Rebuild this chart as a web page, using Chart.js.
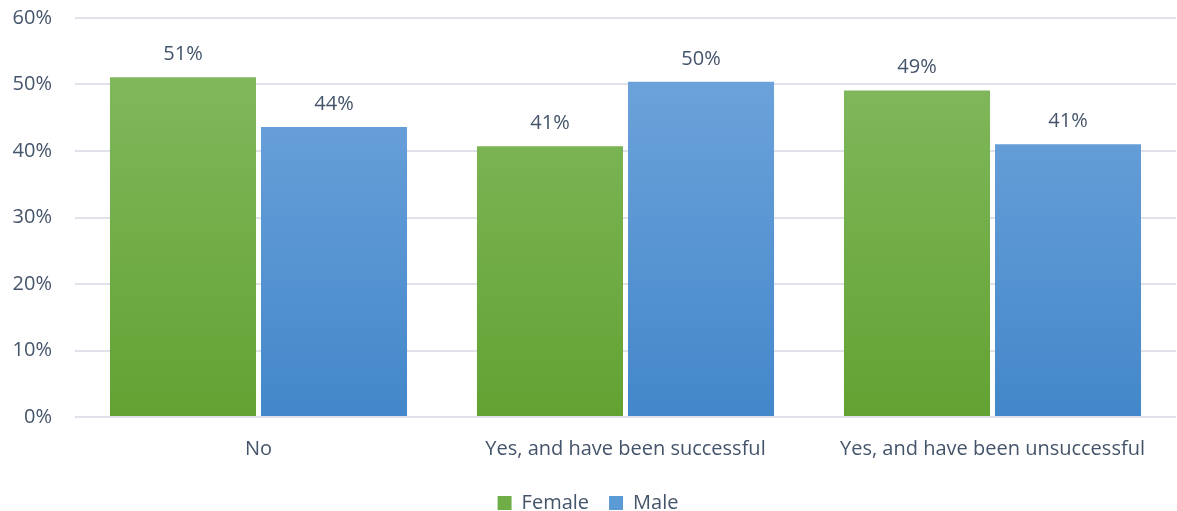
<!DOCTYPE html>
<html>
<head>
<meta charset="utf-8">
<script src="https://cdn.jsdelivr.net/npm/chart.js@4"></script>
<style>
  html, body { margin: 0; padding: 0; background: #ffffff; }
  #wrap { width: 1177px; height: 511px; }
</style>
</head>
<body>
<div id="wrap"><canvas id="genderChart" width="1177" height="511"></canvas></div>
<script>
var categories = ["No", "Yes, and have been successful", "Yes, and have been unsuccessful"];
var female = [51.1, 40.7, 49.1];
var male = [43.6, 50.4, 41.0];
var yTicks = [0, 10, 20, 30, 40, 50, 60];

var textColor = '#44546a';
var fontFamily = "'Open Sans', sans-serif";

function barGradient(top, bottom) {
  return function(context) {
    var chart = context.chart;
    var area = chart.chartArea;
    if (!area) return bottom;
    var g = chart.ctx.createLinearGradient(0, area.top, 0, area.bottom);
    g.addColorStop(0, top);
    g.addColorStop(1, bottom);
    return g;
  };
}

// value labels above each bar
const barLabels = {
  id: 'barLabels',
  afterDatasetsDraw: (chart) => {
    const {ctx} = chart;
    ctx.save();
    ctx.font = '20px ' + fontFamily;
    ctx.fillStyle = textColor;
    ctx.textAlign = 'center';
    ctx.textBaseline = 'bottom';
    chart.data.datasets.forEach((ds, i) => {
      chart.getDatasetMeta(i).data.forEach((bar, j) => {
        ctx.fillText(Math.round(ds.data[j]) + '%', bar.x, bar.y - 13);
      });
    });
    ctx.restore();
  }
};

new Chart(document.getElementById("genderChart"), {
  type: "bar",
  data: {
    labels: categories,
    datasets: [{
      label: "Female",
      data: female,
      backgroundColor: barGradient('#86bb63', '#62a232'),
      categoryPercentage: 0.823,
      barPercentage: 0.967
    }, {
      label: "Male",
      data: male,
      backgroundColor: barGradient('#73a7dd', '#4387ca'),
      categoryPercentage: 0.823,
      barPercentage: 0.967
    }]
  },
  options: {
    responsive: false,
    animation: false,
    layout: { padding: { top: 18, right: 1, left: 0, bottom: -12 } },
    plugins: {
      legend: {
        position: 'bottom',
        labels: {
          color: textColor,
          font: { family: fontFamily, size: 20 },
          boxWidth: 14,
          boxHeight: 14,
          padding: 20,
          generateLabels: (chart) => chart.data.datasets.map((ds, i) => ({
            text: ds.label,
            fillStyle: i === 0 ? '#6fad47' : '#5b9bd5',
            strokeStyle: 'transparent',
            lineWidth: 0,
            fontColor: textColor,
            datasetIndex: i
          }))
        }
      },
      tooltip: { enabled: false }
    },
    scales: {
      x: {
        grid: { display: false },
        border: { display: false },
        ticks: { color: textColor, font: { family: fontFamily, size: 20 }, padding: 12 }
      },
      y: {
        min: 0,
        max: 60,
        afterFit: (scale) => {
          scale.width = 75;
          scale.paddingTop = 0;
          scale.paddingBottom = 0;
        },
        afterBuildTicks: (scale) => { scale.ticks = yTicks.map(v => ({ value: v })); },
        grid: { color: '#dfe3e9', lineWidth: 2, drawTicks: false },
        border: { display: false },
        ticks: {
          color: textColor,
          font: { family: fontFamily, size: 20 },
          padding: 23,
          callback: (v) => v + '%'
        }
      }
    }
  },
  plugins: [barLabels]
});
</script>
</body>
</html>
